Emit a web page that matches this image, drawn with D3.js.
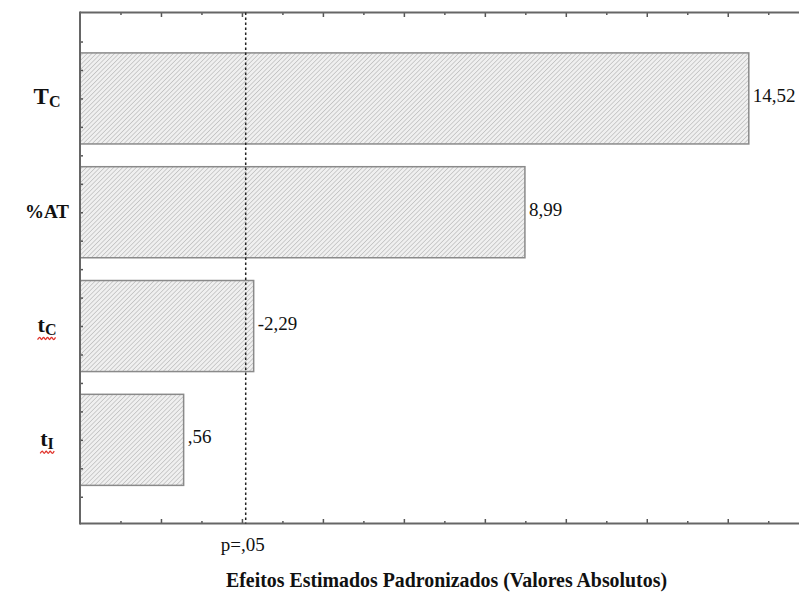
<!DOCTYPE html>
<html>
<head>
<meta charset="utf-8">
<script src="https://cdn.jsdelivr.net/npm/d3@7"></script>
<style>
  body { margin: 0; background: #fff; }
  svg { display: block; }
</style>
</head>
<body>
<svg id="chart" width="799" height="593"></svg>
<script>
// Pareto chart of standardized effects
const factorMain = ["T", "%AT", "t", "t"];
const factorSub = ["C", "", "C", "I"];
const effects = [14.52, 8.99, -2.29, 0.56];
const spellMarked = [false, false, true, true];
const pCritical = 2.093;
const pLabel = "p=,05";
const xTitle = "Efeitos Estimados Padronizados (Valores Absolutos)";
const xDomain = [-2, 15.76];
const xTickValues = d3.range(-1, 16);
const yTickValues = d3.range(-0.5, 3.51, 0.25);

const svg = d3.select("#chart");
const plotLeft = 80, plotRight = 799, plotTop = 12.5, plotBottom = 523.5;
const serif = "'Liberation Serif', 'Times New Roman', serif";

const x = d3.scaleLinear().domain(xDomain).range([plotLeft, plotRight]);
const y = d3.scaleLinear().domain([-0.755, 3.735]).range([plotTop, plotBottom]);

// hatch pattern for the bars
const defs = svg.append("defs");
const pat = defs.append("pattern")
  .attr("id", "hatch")
  .attr("patternUnits", "userSpaceOnUse")
  .attr("width", 3.2).attr("height", 3.2)
  .attr("patternTransform", "rotate(45)");
pat.append("rect").attr("width", 3.2).attr("height", 3.2).attr("fill", "#f0f0f0");
pat.append("line").attr("x1", 0).attr("y1", 0).attr("x2", 0).attr("y2", 3.2)
  .attr("stroke", "#a8a8a8").attr("stroke-width", 1);

// bars, drawn from the left edge of the axis
const fmt = v => d3.format(".2f")(Math.abs(v))
  .replace(".", ",").replace(/^0,/, ",")
  .replace(/^/, v < 0 ? "-" : "");

svg.append("g").selectAll("rect")
  .data(effects)
  .join("rect")
  .attr("x", x(xDomain[0]))
  .attr("y", (d, i) => y(i - 0.4))
  .attr("width", d => x(Math.abs(d)) - x(xDomain[0]))
  .attr("height", (d, i) => y(i + 0.4) - y(i - 0.4))
  .attr("fill", "url(#hatch)")
  .attr("stroke", "#8a8a8a")
  .attr("stroke-width", 1.5);

// value labels
svg.append("g").selectAll("text")
  .data(effects)
  .join("text")
  .attr("x", d => x(Math.abs(d)) + 4)
  .attr("y", (d, i) => y(i) + 3.5)
  .attr("font-family", serif)
  .attr("font-size", 19)
  .attr("fill", "#111")
  .text(d => fmt(d));

// axes: ticks pointing inwards, major on even values
function styleAxis(g) {
  g.select(".domain").remove();
  g.selectAll(".tick line").attr("stroke", "#555").attr("stroke-width", 1.5);
  g.selectAll(".tick text").remove();
}
const major = xTickValues.filter(v => v % 2 === 0);
const minor = xTickValues.filter(v => v % 2 !== 0);

svg.append("g").attr("transform", `translate(0,${plotBottom})`)
  .call(d3.axisBottom(x).tickValues(major).tickSize(-4.5).tickFormat("")).call(styleAxis);
svg.append("g").attr("transform", `translate(0,${plotBottom})`)
  .call(d3.axisBottom(x).tickValues(minor).tickSize(-2.5).tickFormat("")).call(styleAxis);
svg.append("g").attr("transform", `translate(0,${plotTop})`)
  .call(d3.axisTop(x).tickValues(major).tickSize(-4.5).tickFormat("")).call(styleAxis);
svg.append("g").attr("transform", `translate(0,${plotTop})`)
  .call(d3.axisTop(x).tickValues(minor).tickSize(-2.5).tickFormat("")).call(styleAxis);
svg.append("g").attr("transform", `translate(${plotLeft},0)`)
  .call(d3.axisLeft(y).tickValues(yTickValues).tickSize(-3).tickFormat("")).call(styleAxis);

// frame lines
const frame = svg.append("g").attr("stroke", "#666").attr("stroke-width", 2).attr("fill", "none");
frame.append("line").attr("x1", plotLeft).attr("x2", plotRight).attr("y1", plotTop).attr("y2", plotTop);
frame.append("line").attr("x1", plotLeft).attr("x2", plotRight).attr("y1", plotBottom).attr("y2", plotBottom);
frame.append("line").attr("x1", plotLeft).attr("x2", plotLeft).attr("y1", plotTop - 1).attr("y2", plotBottom + 1);

// significance line
svg.append("line")
  .attr("x1", x(pCritical)).attr("x2", x(pCritical))
  .attr("y1", plotTop).attr("y2", plotBottom)
  .attr("stroke", "#222").attr("stroke-width", 1.5)
  .attr("stroke-dasharray", "2.5,2.5");

svg.append("text")
  .attr("x", x(pCritical) - 3).attr("y", 551)
  .attr("text-anchor", "middle")
  .attr("font-family", serif).attr("font-size", 19).attr("fill", "#111")
  .text(pLabel);

// category labels with subscripts
const labels = svg.append("g").selectAll("text")
  .data(factorMain)
  .join("text")
  .attr("x", 47)
  .attr("y", (d, i) => y(i) + 6)
  .attr("text-anchor", "middle")
  .attr("font-family", serif)
  .attr("font-weight", "bold")
  .attr("fill", "#111");
labels.append("tspan")
  .attr("font-size", (d, i) => factorSub[i] ? (d === "T" ? 23 : 22) : 19)
  .text(d => d);
labels.append("tspan")
  .attr("font-size", 16)
  .attr("dy", 3)
  .text((d, i) => factorSub[i]);

// red wavy underline beneath marked labels
labels.each(function (d, i) {
  if (!spellMarked[i]) return;
  const b = this.getBBox();
  const y0 = y(i) + 13.5;
  const pts = [];
  for (let k = 0; k <= Math.round(b.width / 2); k++) {
    pts.push([b.x + k * 2, y0 + (k % 2 === 0 ? 0 : -2.2)]);
  }
  svg.append("path")
    .attr("d", d3.line().curve(d3.curveMonotoneX)(pts))
    .attr("fill", "none")
    .attr("stroke", "#e0322a")
    .attr("stroke-width", 1.3);
});

// axis title
svg.append("text")
  .attr("x", 446.5).attr("y", 587)
  .attr("text-anchor", "middle")
  .attr("font-family", serif).attr("font-weight", "bold")
  .attr("font-size", 21.5).attr("fill", "#111")
  .attr("textLength", 441).attr("lengthAdjust", "spacingAndGlyphs")
  .text(xTitle);
</script>
</body>
</html>
